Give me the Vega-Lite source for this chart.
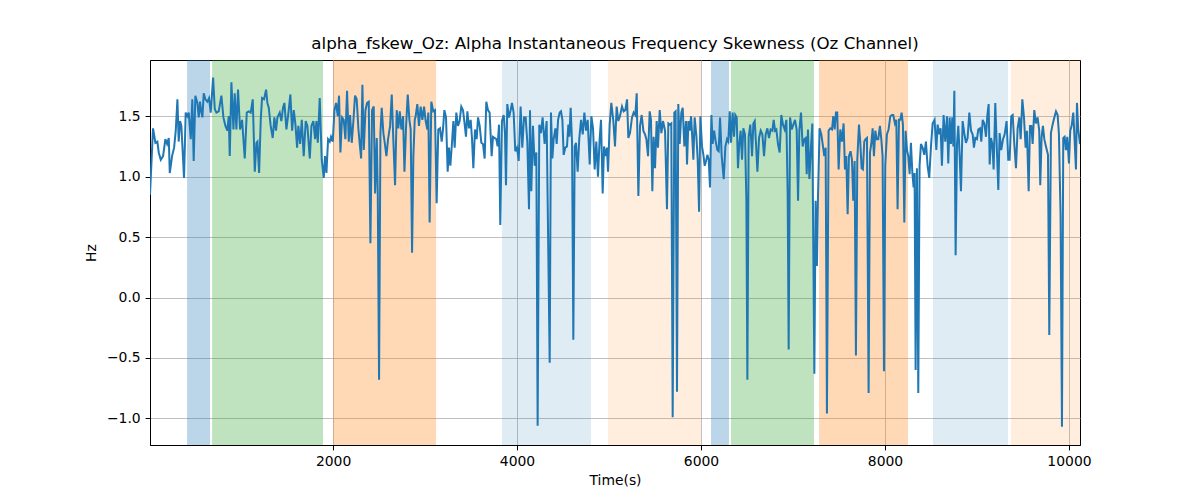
{
"$schema": "https://vega.github.io/schema/vega-lite/v6.json",
"width": 930, "height": 385,
"autosize": {"type": "none"},
"padding": {"left": 150, "top": 60, "right": 120, "bottom": 55},
"background": "white",
"config": {
 "font": "DejaVu Sans",
 "view": {"stroke": "black", "strokeWidth": 1},
 "axis": {"domainColor": "black", "tickColor": "black", "labelColor": "black", "titleColor": "black", "labelFont": "DejaVu Sans", "titleFont": "DejaVu Sans", "labelFontSize": 13.9, "titleFontSize": 13.9, "titleFontWeight": "normal", "tickSize": 4.9, "labelPadding": 4.9, "gridColor": "#b0b0b0", "gridWidth": 0.8, "domainWidth": 1}
},
"title": {"text": "alpha_fskew_Oz: Alpha Instantaneous Frequency Skewness (Oz Channel)", "font": "DejaVu Sans", "fontSize": 16.7, "fontWeight": "normal", "color": "black", "offset": 7, "anchor": "middle"},
"datasets": {
 "bands": [
  {"start": 413, "end": 663, "kind": "A"},
  {"start": 685, "end": 1891, "kind": "B"},
  {"start": 2000, "end": 3120, "kind": "C"},
  {"start": 3837, "end": 4804, "kind": "D"},
  {"start": 4989, "end": 6000, "kind": "E"},
  {"start": 6109, "end": 6304, "kind": "A"},
  {"start": 6326, "end": 7228, "kind": "B"},
  {"start": 7283, "end": 8250, "kind": "C"},
  {"start": 8522, "end": 9337, "kind": "D"},
  {"start": 9370, "end": 10120, "kind": "E"}
 ],
 "series": [
  {"t":10,"v":0.85},{"t":43,"v":1.40},{"t":69,"v":1.28},{"t":90,"v":1.29},{"t":105,"v":1.20},{"t":127,"v":1.14},{"t":152,"v":1.17},{"t":177,"v":1.31},{"t":196,"v":1.27},{"t":214,"v":1.32},{"t":225,"v":1.03},{"t":250,"v":1.17},{"t":272,"v":1.24},{"t":290,"v":1.38},{"t":308,"v":1.64},{"t":322,"v":1.29},{"t":337,"v":1.46},{"t":351,"v":1.42},{"t":380,"v":0.99},{"t":398,"v":1.53},{"t":416,"v":1.50},{"t":431,"v":1.53},{"t":453,"v":1.31},{"t":470,"v":1.64},{"t":485,"v":1.13},{"t":503,"v":1.67},{"t":525,"v":1.61},{"t":540,"v":1.49},{"t":554,"v":1.62},{"t":569,"v":1.53},{"t":580,"v":1.49},{"t":594,"v":1.69},{"t":612,"v":1.64},{"t":634,"v":1.62},{"t":652,"v":1.65},{"t":670,"v":1.53},{"t":696,"v":1.82},{"t":714,"v":1.56},{"t":732,"v":1.53},{"t":757,"v":1.54},{"t":786,"v":1.67},{"t":808,"v":1.49},{"t":830,"v":1.42},{"t":851,"v":1.38},{"t":866,"v":1.50},{"t":877,"v":1.17},{"t":895,"v":1.78},{"t":917,"v":1.39},{"t":931,"v":1.69},{"t":949,"v":1.39},{"t":967,"v":1.72},{"t":989,"v":1.39},{"t":1011,"v":1.47},{"t":1040,"v":1.15},{"t":1062,"v":1.53},{"t":1083,"v":1.54},{"t":1105,"v":1.53},{"t":1127,"v":1.64},{"t":1149,"v":1.04},{"t":1167,"v":1.28},{"t":1178,"v":1.29},{"t":1196,"v":1.03},{"t":1214,"v":1.47},{"t":1228,"v":1.65},{"t":1250,"v":1.64},{"t":1272,"v":1.72},{"t":1286,"v":1.61},{"t":1301,"v":1.57},{"t":1322,"v":1.42},{"t":1344,"v":1.32},{"t":1362,"v":1.49},{"t":1380,"v":1.38},{"t":1395,"v":1.49},{"t":1420,"v":1.53},{"t":1438,"v":1.46},{"t":1456,"v":1.57},
  {"t":1471,"v":1.61},{"t":1493,"v":1.39},{"t":1515,"v":1.53},{"t":1536,"v":1.68},{"t":1555,"v":1.38},{"t":1573,"v":1.55},{"t":1591,"v":1.43},{"t":1609,"v":1.24},{"t":1623,"v":1.42},{"t":1642,"v":1.27},{"t":1660,"v":1.47},{"t":1681,"v":1.17},{"t":1703,"v":1.46},{"t":1721,"v":1.42},{"t":1747,"v":1.15},{"t":1765,"v":1.42},{"t":1786,"v":1.46},{"t":1805,"v":1.31},{"t":1819,"v":1.46},{"t":1834,"v":1.28},{"t":1855,"v":1.65},{"t":1877,"v":1.14},{"t":1899,"v":0.99},{"t":1913,"v":1.17},{"t":1928,"v":1.03},{"t":1946,"v":1.31},{"t":1964,"v":1.29},{"t":1978,"v":1.33},{"t":1997,"v":1.29},{"t":2015,"v":1.55},{"t":2033,"v":1.61},{"t":2051,"v":1.50},{"t":2065,"v":1.67},{"t":2080,"v":1.20},{"t":2098,"v":1.49},{"t":2116,"v":1.47},{"t":2134,"v":1.31},{"t":2152,"v":1.71},{"t":2171,"v":1.29},{"t":2185,"v":1.51},{"t":2203,"v":1.28},{"t":2221,"v":1.46},{"t":2239,"v":1.67},{"t":2257,"v":1.64},{"t":2276,"v":1.39},{"t":2290,"v":1.27},{"t":2305,"v":1.15},{"t":2319,"v":1.76},{"t":2334,"v":1.22},{"t":2352,"v":1.55},{"t":2370,"v":1.61},{"t":2388,"v":1.62},{"t":2406,"v":0.45},{"t":2424,"v":1.55},{"t":2442,"v":1.58},{"t":2457,"v":0.86},{"t":2475,"v":1.32},{"t":2486,"v":0.86},{"t":2500,"v":-0.68},{"t":2515,"v":1.36},{"t":2529,"v":1.57},{"t":2547,"v":1.36},{"t":2562,"v":1.28},{"t":2580,"v":1.17},{"t":2598,"v":1.31},{"t":2620,"v":1.42},{"t":2638,"v":1.68},{"t":2656,"v":1.29},{"t":2674,"v":0.93},{"t":2692,"v":1.55},{"t":2710,"v":1.40},{"t":2725,"v":1.54},{"t":2743,"v":1.39},{"t":2761,"v":1.50},{"t":2776,"v":1.04},{"t":2794,"v":1.42},{"t":2812,"v":1.68},{"t":2830,"v":1.47},{"t":2844,"v":1.39},{"t":2859,"v":0.37},{"t":2873,"v":1.17},{"t":2888,"v":1.47},
  {"t":2898,"v":1.50},{"t":2916,"v":1.60},{"t":2934,"v":1.42},{"t":2952,"v":1.58},{"t":2971,"v":1.47},{"t":2989,"v":1.58},{"t":3007,"v":1.46},{"t":3025,"v":1.39},{"t":3036,"v":1.53},{"t":3050,"v":0.62},{"t":3068,"v":1.62},{"t":3090,"v":1.54},{"t":3108,"v":1.55},{"t":3126,"v":0.78},{"t":3144,"v":1.39},{"t":3163,"v":1.40},{"t":3181,"v":1.29},{"t":3195,"v":1.39},{"t":3210,"v":1.55},{"t":3228,"v":1.49},{"t":3246,"v":1.04},{"t":3260,"v":1.24},{"t":3275,"v":1.09},{"t":3293,"v":1.28},{"t":3308,"v":1.46},{"t":3322,"v":1.24},{"t":3340,"v":1.53},{"t":3358,"v":1.42},{"t":3376,"v":1.46},{"t":3394,"v":1.58},{"t":3413,"v":1.55},{"t":3431,"v":1.43},{"t":3445,"v":1.33},{"t":3460,"v":1.54},{"t":3478,"v":1.40},{"t":3496,"v":1.47},{"t":3510,"v":1.32},{"t":3525,"v":1.07},{"t":3543,"v":1.39},{"t":3561,"v":1.31},{"t":3576,"v":1.49},{"t":3594,"v":1.42},{"t":3612,"v":1.28},{"t":3630,"v":1.27},{"t":3648,"v":1.15},{"t":3666,"v":1.62},{"t":3684,"v":1.55},{"t":3702,"v":1.53},{"t":3724,"v":1.17},{"t":3739,"v":1.33},{"t":3757,"v":1.32},{"t":3775,"v":1.31},{"t":3789,"v":1.25},{"t":3804,"v":1.43},{"t":3818,"v":0.60},{"t":3836,"v":1.46},{"t":3855,"v":1.51},{"t":3869,"v":1.36},{"t":3880,"v":0.93},{"t":3894,"v":1.60},{"t":3913,"v":1.49},{"t":3931,"v":1.55},{"t":3945,"v":1.61},{"t":3963,"v":1.53},{"t":3981,"v":1.21},{"t":4000,"v":1.24},{"t":4018,"v":1.13},{"t":4039,"v":1.58},{"t":4057,"v":1.24},{"t":4076,"v":1.49},{"t":4094,"v":1.49},{"t":4112,"v":1.28},{"t":4130,"v":0.73},{"t":4141,"v":1.55},{"t":4155,"v":0.88},{"t":4173,"v":1.42},{"t":4192,"v":1.09},{"t":4210,"v":1.20},{"t":4224,"v":-1.06},{"t":4242,"v":1.43},{"t":4260,"v":1.36},{"t":4278,"v":1.49},{"t":4300,"v":1.27},{"t":4322,"v":1.46},
  {"t":4355,"v":-0.54},{"t":4369,"v":1.53},{"t":4384,"v":1.15},{"t":4398,"v":1.31},{"t":4417,"v":1.40},{"t":4431,"v":1.27},{"t":4446,"v":1.47},{"t":4464,"v":1.53},{"t":4478,"v":1.54},{"t":4493,"v":1.47},{"t":4507,"v":1.18},{"t":4525,"v":1.24},{"t":4543,"v":1.25},{"t":4558,"v":1.43},{"t":4569,"v":1.33},{"t":4583,"v":1.57},{"t":4598,"v":1.28},{"t":4612,"v":-0.35},{"t":4627,"v":1.25},{"t":4641,"v":1.28},{"t":4659,"v":1.04},{"t":4677,"v":1.32},{"t":4696,"v":1.47},{"t":4714,"v":1.35},{"t":4732,"v":1.53},{"t":4750,"v":1.38},{"t":4768,"v":1.47},{"t":4790,"v":1.10},{"t":4808,"v":1.50},{"t":4826,"v":1.40},{"t":4844,"v":1.06},{"t":4862,"v":1.29},{"t":4880,"v":1.00},{"t":4898,"v":1.31},{"t":4913,"v":1.47},{"t":4931,"v":0.86},{"t":4946,"v":1.25},{"t":4964,"v":1.17},{"t":4978,"v":1.24},{"t":4989,"v":1.04},{"t":5007,"v":1.43},{"t":5025,"v":1.61},{"t":5047,"v":1.46},{"t":5065,"v":1.25},{"t":5083,"v":1.58},{"t":5101,"v":1.46},{"t":5119,"v":1.50},{"t":5141,"v":1.58},{"t":5159,"v":1.54},{"t":5177,"v":1.55},{"t":5196,"v":1.64},{"t":5210,"v":1.32},{"t":5228,"v":1.36},{"t":5250,"v":1.49},{"t":5268,"v":1.53},{"t":5286,"v":1.51},{"t":5301,"v":1.69},{"t":5319,"v":0.84},{"t":5337,"v":1.42},{"t":5355,"v":1.51},{"t":5373,"v":1.38},{"t":5391,"v":1.35},{"t":5406,"v":1.31},{"t":5424,"v":1.17},{"t":5442,"v":1.54},{"t":5456,"v":1.47},{"t":5471,"v":0.88},{"t":5485,"v":1.33},{"t":5500,"v":1.07},{"t":5518,"v":1.46},{"t":5532,"v":1.24},{"t":5551,"v":1.55},{"t":5569,"v":1.36},{"t":5587,"v":1.46},{"t":5609,"v":1.38},{"t":5630,"v":0.73},{"t":5645,"v":1.44},{"t":5663,"v":1.43},{"t":5677,"v":1.44},{"t":5692,"v":-0.99},{"t":5710,"v":1.53},{"t":5724,"v":1.54},{"t":5739,"v":-0.78},{"t":5753,"v":1.60},{"t":5768,"v":1.27},{"t":5786,"v":1.53},
  {"t":5801,"v":1.57},{"t":5819,"v":1.25},{"t":5837,"v":1.46},{"t":5848,"v":1.10},{"t":5863,"v":1.46},{"t":5877,"v":1.38},{"t":5892,"v":1.50},{"t":5906,"v":1.31},{"t":5917,"v":1.14},{"t":5931,"v":1.49},{"t":5950,"v":1.33},{"t":5964,"v":1.14},{"t":5979,"v":0.71},{"t":5993,"v":1.50},{"t":6011,"v":1.25},{"t":6026,"v":1.18},{"t":6040,"v":1.09},{"t":6055,"v":1.13},{"t":6069,"v":1.18},{"t":6084,"v":1.14},{"t":6098,"v":0.91},{"t":6113,"v":1.51},{"t":6127,"v":1.27},{"t":6142,"v":1.38},{"t":6160,"v":1.29},{"t":6178,"v":1.22},{"t":6192,"v":1.21},{"t":6207,"v":1.49},{"t":6225,"v":1.17},{"t":6247,"v":0.98},{"t":6265,"v":1.25},{"t":6283,"v":1.31},{"t":6297,"v":1.29},{"t":6312,"v":1.54},{"t":6326,"v":1.28},{"t":6344,"v":1.53},{"t":6359,"v":1.33},{"t":6373,"v":1.51},{"t":6388,"v":1.49},{"t":6402,"v":1.07},{"t":6417,"v":1.28},{"t":6431,"v":1.38},{"t":6446,"v":1.14},{"t":6460,"v":1.40},{"t":6478,"v":1.35},{"t":6493,"v":0.81},{"t":6504,"v":-0.68},{"t":6518,"v":1.33},{"t":6536,"v":1.43},{"t":6555,"v":1.17},{"t":6569,"v":1.44},{"t":6584,"v":1.46},{"t":6598,"v":1.27},{"t":6613,"v":1.04},{"t":6631,"v":1.32},{"t":6649,"v":1.38},{"t":6667,"v":1.35},{"t":6685,"v":1.17},{"t":6703,"v":1.35},{"t":6721,"v":1.40},{"t":6739,"v":1.32},{"t":6757,"v":1.39},{"t":6776,"v":1.38},{"t":6790,"v":1.47},{"t":6805,"v":1.38},{"t":6819,"v":1.39},{"t":6837,"v":1.27},{"t":6855,"v":1.20},{"t":6873,"v":1.51},{"t":6891,"v":1.43},{"t":6910,"v":1.39},{"t":6928,"v":1.47},{"t":6942,"v":0.86},{"t":6953,"v":-0.43},{"t":6968,"v":1.49},{"t":6986,"v":1.39},{"t":7004,"v":1.43},{"t":7022,"v":1.47},{"t":7040,"v":1.39},{"t":7055,"v":0.80},{"t":7069,"v":1.38},{"t":7087,"v":1.53},{"t":7105,"v":1.25},{"t":7123,"v":1.31},{"t":7138,"v":1.32},{"t":7149,"v":1.02},{"t":7163,"v":1.39},{"t":7178,"v":0.98},{"t":7196,"v":1.25},{"t":7210,"v":1.44},{"t":7232,"v":-0.63},
  {"t":7246,"v":0.80},{"t":7260,"v":0.26},{"t":7271,"v":0.81},{"t":7289,"v":1.40},{"t":7308,"v":1.35},{"t":7326,"v":1.25},{"t":7340,"v":1.17},{"t":7355,"v":1.24},{"t":7369,"v":-0.96},{"t":7387,"v":1.38},{"t":7405,"v":1.40},{"t":7424,"v":1.39},{"t":7438,"v":1.50},{"t":7453,"v":1.39},{"t":7467,"v":1.53},{"t":7481,"v":1.53},{"t":7496,"v":1.06},{"t":7514,"v":1.39},{"t":7532,"v":1.29},{"t":7550,"v":1.44},{"t":7565,"v":1.06},{"t":7579,"v":1.17},{"t":7594,"v":0.69},{"t":7608,"v":1.17},{"t":7626,"v":1.21},{"t":7641,"v":1.14},{"t":7655,"v":0.80},{"t":7670,"v":1.13},{"t":7684,"v":-0.48},{"t":7699,"v":1.14},{"t":7717,"v":1.43},{"t":7731,"v":1.29},{"t":7746,"v":1.07},{"t":7760,"v":1.06},{"t":7775,"v":1.29},{"t":7789,"v":1.31},{"t":7804,"v":1.32},{"t":7822,"v":-0.79},{"t":7837,"v":1.20},{"t":7851,"v":1.27},{"t":7866,"v":1.40},{"t":7880,"v":1.17},{"t":7895,"v":1.38},{"t":7909,"v":1.31},{"t":7927,"v":1.31},{"t":7945,"v":1.42},{"t":7960,"v":1.31},{"t":7974,"v":1.17},{"t":7989,"v":-0.61},{"t":8003,"v":1.09},{"t":8021,"v":1.35},{"t":8039,"v":1.39},{"t":8058,"v":1.50},{"t":8076,"v":1.51},{"t":8090,"v":1.51},{"t":8108,"v":1.44},{"t":8123,"v":1.47},{"t":8137,"v":0.73},{"t":8152,"v":1.47},{"t":8166,"v":1.47},{"t":8181,"v":1.53},{"t":8195,"v":1.43},{"t":8210,"v":0.62},{"t":8224,"v":1.38},{"t":8239,"v":1.22},{"t":8253,"v":1.17},{"t":8268,"v":1.02},{"t":8282,"v":1.28},{"t":8297,"v":1.04},{"t":8311,"v":0.91},{"t":8322,"v":1.03},{"t":8333,"v":-0.60},{"t":8347,"v":1.07},{"t":8362,"v":-0.79},{"t":8376,"v":1.09},{"t":8391,"v":1.27},{"t":8409,"v":1.24},{"t":8427,"v":1.18},{"t":8445,"v":1.29},{"t":8463,"v":1.09},{"t":8481,"v":0.99},{"t":8500,"v":1.25},{"t":8518,"v":1.44},{"t":8539,"v":1.47},{"t":8558,"v":1.22},{"t":8572,"v":1.43},{"t":8590,"v":1.35},{"t":8605,"v":1.40},{"t":8619,"v":1.09},{"t":8637,"v":1.51},{"t":8655,"v":1.29},{"t":8674,"v":1.50},
  {"t":8688,"v":1.11},{"t":8703,"v":1.49},{"t":8717,"v":1.27},{"t":8732,"v":1.49},{"t":8743,"v":1.25},{"t":8754,"v":1.71},{"t":8768,"v":0.35},{"t":8783,"v":1.27},{"t":8797,"v":1.42},{"t":8812,"v":1.17},{"t":8826,"v":0.88},{"t":8844,"v":1.46},{"t":8862,"v":1.36},{"t":8880,"v":1.28},{"t":8898,"v":1.32},{"t":8917,"v":1.53},{"t":8935,"v":1.38},{"t":8953,"v":1.35},{"t":8967,"v":1.24},{"t":8982,"v":1.32},{"t":9000,"v":1.31},{"t":9014,"v":1.39},{"t":9033,"v":1.40},{"t":9047,"v":1.29},{"t":9062,"v":1.47},{"t":9080,"v":1.44},{"t":9098,"v":1.33},{"t":9112,"v":1.50},{"t":9127,"v":1.60},{"t":9138,"v":1.10},{"t":9152,"v":1.32},{"t":9167,"v":1.27},{"t":9181,"v":1.06},{"t":9199,"v":1.61},{"t":9217,"v":1.21},{"t":9232,"v":0.89},{"t":9246,"v":1.36},{"t":9264,"v":1.22},{"t":9283,"v":1.31},{"t":9301,"v":1.35},{"t":9322,"v":1.46},{"t":9340,"v":1.14},{"t":9355,"v":1.14},{"t":9373,"v":1.50},{"t":9388,"v":1.51},{"t":9406,"v":1.27},{"t":9424,"v":1.07},{"t":9442,"v":1.40},{"t":9460,"v":1.49},{"t":9475,"v":1.31},{"t":9493,"v":1.64},{"t":9511,"v":1.49},{"t":9529,"v":1.24},{"t":9543,"v":1.38},{"t":9562,"v":0.88},{"t":9576,"v":1.42},{"t":9591,"v":1.42},{"t":9605,"v":1.27},{"t":9623,"v":1.55},{"t":9641,"v":1.44},{"t":9659,"v":1.49},{"t":9677,"v":1.38},{"t":9688,"v":0.93},{"t":9703,"v":1.33},{"t":9717,"v":1.42},{"t":9732,"v":1.31},{"t":9750,"v":1.25},{"t":9772,"v":1.18},{"t":9786,"v":-0.31},{"t":9804,"v":1.36},{"t":9822,"v":1.43},{"t":9841,"v":1.49},{"t":9859,"v":1.54},{"t":9877,"v":1.51},{"t":9891,"v":1.35},{"t":9909,"v":0.67},{"t":9924,"v":-1.07},{"t":9938,"v":1.32},{"t":9953,"v":1.33},{"t":9967,"v":1.22},{"t":9982,"v":1.33},{"t":10000,"v":1.11},{"t":10014,"v":1.38},{"t":10029,"v":1.42},{"t":10047,"v":1.53},{"t":10062,"v":1.29},{"t":10076,"v":1.06},{"t":10087,"v":1.61},{"t":10101,"v":1.39},{"t":10120,"v":1.27}
 ]
},
"layer": [
 {
  "data": {"name": "bands"},
  "transform": [{"filter": "datum.kind === 'A' || datum.kind === 'B' || datum.kind === 'C'"}],
  "mark": {"type": "rect", "opacity": 0.3},
  "encoding": {
   "x": {"field": "start", "type": "quantitative", "scale": {"domain": [10, 10120], "nice": false, "zero": false}, "axis": {"title": "Time(s)", "values": [2000, 4000, 6000, 8000, 10000], "format": "d", "grid": true, "titlePadding": 5}},
   "x2": {"field": "end"},
   "color": {"field": "kind", "type": "nominal", "scale": {"domain": ["A", "B", "C", "D", "E"], "range": ["#1f77b4", "#2ca02c", "#ff7f0e", "#1f77b4", "#ff7f0e"]}, "legend": null}
  }
 },
 {
  "data": {"name": "bands"},
  "transform": [{"filter": "datum.kind === 'D' || datum.kind === 'E'"}],
  "mark": {"type": "rect", "opacity": 0.14},
  "encoding": {
   "x": {"field": "start", "type": "quantitative", "axis": {"title": "Time(s)", "values": [2000, 4000, 6000, 8000, 10000], "format": "d", "grid": true, "titlePadding": 5}},
   "x2": {"field": "end"},
   "color": {"field": "kind", "type": "nominal", "legend": null}
  }
 },
 {
  "data": {"name": "series"},
  "mark": {"type": "line", "color": "#1f77b4", "strokeWidth": 2, "clip": true},
  "encoding": {
   "x": {"field": "t", "type": "quantitative", "axis": {"title": "Time(s)", "values": [2000, 4000, 6000, 8000, 10000], "format": "d", "grid": true, "titlePadding": 5}},
   "y": {"field": "v", "type": "quantitative", "scale": {"domain": [-1.22, 1.965], "nice": false, "zero": false}, "axis": {"title": "Hz", "values": [-1, -0.5, 0, 0.5, 1, 1.5], "format": ".1f", "grid": true, "titlePadding": 8}}
  }
 }
]
}
